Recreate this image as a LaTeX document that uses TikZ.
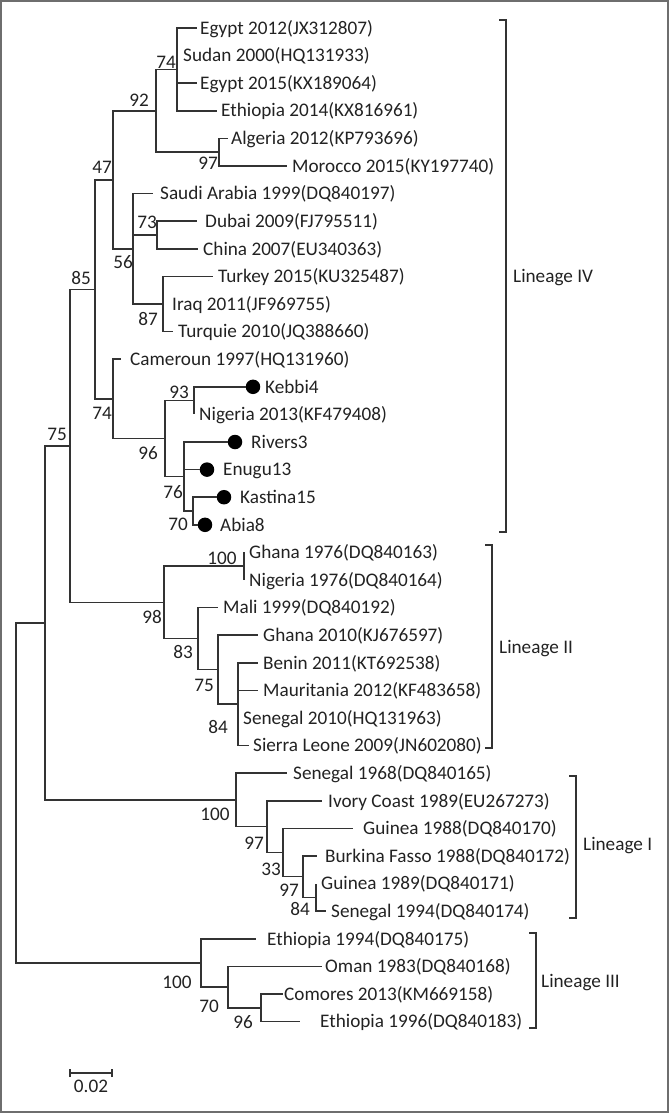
\documentclass[tikz,border=0pt]{standalone}
\usepackage{fontspec}
\setmainfont{Carlito}
\newcommand\fs{\fontsize{19.2}{23}\selectfont}
\definecolor{frm}{HTML}{6E6E6E}
\definecolor{ln}{HTML}{333333}
\definecolor{tx}{HTML}{222222}
\begin{document}
\begin{tikzpicture}[x=1pt,y=-1pt,
  br/.style={line width=1.5pt, draw=ln},
  lf/.style={anchor=west, inner sep=0pt, text height=12.4pt, text depth=0pt, font=\fs, text=tx},
  bs/.style={anchor=center, inner sep=0pt, text height=12.4pt, text depth=0pt, font=\fs, text=tx},
  dotm/.style={circle, fill=black, draw=none, inner sep=0pt, minimum size=14.5pt},
  bk/.style={line width=1.5pt, draw=ln}]
\useasboundingbox (0,0) rectangle (670,1113);
\draw[line width=2pt, draw=frm] (1,1.2) rectangle (668,1111.5);
% internal nodes
\coordinate (root) at (16,793);
\coordinate (nA) at (45,623);
\coordinate (n75) at (70,445.9);
\coordinate (n85) at (95,289.4);
\coordinate (n47) at (113,179.8);
\coordinate (n92) at (156,110.8);
\coordinate (nEg) at (177,69.4);
\coordinate (nAM) at (219,152.2);
\coordinate (n56) at (133,248.8);
\coordinate (n73) at (157,235);
\coordinate (n87) at (163,304);
\coordinate (n74) at (113,398.9);
\coordinate (n96) at (165,438.6);
\coordinate (n93) at (194,400.6);
\coordinate (n76) at (184,476.5);
\coordinate (n70) at (193,511);
\coordinate (n98) at (164,602.4);
\coordinate (n100a) at (244,566.2);
\coordinate (n83) at (198,638.7);
\coordinate (n75b) at (218,669.7);
\coordinate (n84) at (238,704.2);
\coordinate (n100b) at (236,800);
\coordinate (n97a) at (267,826.7);
\coordinate (n33) at (283,852.6);
\coordinate (n97b) at (303,876.7);
\coordinate (n84b) at (316,897.4);
\coordinate (n100c) at (201,963);
\coordinate (n70c) at (228,987.1);
\coordinate (n96c) at (261,1007.8);
% leaf tips
\coordinate (t1) at (197,28);
\coordinate (t2) at (177,55.6);
\coordinate (t3) at (197,83.2);
\coordinate (t4) at (217,110.8);
\coordinate (t5) at (228,138.4);
\coordinate (t6) at (287,166);
\coordinate (t7) at (153,193.6);
\coordinate (t8) at (197,221.2);
\coordinate (t9) at (198,248.8);
\coordinate (t10) at (213,276.4);
\coordinate (t11) at (163,304);
\coordinate (t12) at (173,331.6);
\coordinate (t13) at (121,359.2);
\coordinate (t15) at (194,414.4);
\coordinate (t20) at (244,552.4);
\coordinate (t21) at (244,580);
\coordinate (t22) at (218,607.6);
\coordinate (t23) at (258,635.2);
\coordinate (t24) at (258,662.8);
\coordinate (t25) at (258,690.4);
\coordinate (t26) at (238,718);
\coordinate (t27) at (249,745.6);
\coordinate (t28) at (287,773.2);
\coordinate (t29) at (322,800.8);
\coordinate (t30) at (353,828.4);
\coordinate (t31) at (317,856);
\coordinate (t32) at (316,883.6);
\coordinate (t33) at (326,911.2);
\coordinate (t34) at (256,938.8);
\coordinate (t35) at (322,966.4);
\coordinate (t36) at (283,994);
\coordinate (t37) at (300,1021.6);
% dots
\node[dotm] (d14) at (253,386.8) {};
\node[dotm] (d16) at (235,442) {};
\node[dotm] (d17) at (207,469.6) {};
\node[dotm] (d18) at (224,497.2) {};
\node[dotm] (d19) at (205,524.8) {};
% branches
\draw[br] (root) |- (nA);
\draw[br] (root) |- (n100c);
\draw[br] (nA) |- (n75);
\draw[br] (nA) |- (n100b);
\draw[br] (n75) |- (n85);
\draw[br] (n75) |- (n98);
\draw[br] (n85) |- (n47);
\draw[br] (n85) |- (n74);
\draw[br] (n47) |- (n92);
\draw[br] (n47) |- (n56);
\draw[br] (n92) |- (nEg);
\draw[br] (n92) |- (nAM);
\draw[br] (nEg) |- (t1);
\draw[br] (nEg) |- (t2);
\draw[br] (nEg) |- (t3);
\draw[br] (nEg) |- (t4);
\draw[br] (nAM) |- (t5);
\draw[br] (nAM) |- (t6);
\draw[br] (n56) |- (t7);
\draw[br] (n56) |- (n73);
\draw[br] (n56) |- (n87);
\draw[br] (n73) |- (t8);
\draw[br] (n73) |- (t9);
\draw[br] (n87) |- (t10);
\draw[br] (n87) |- (t11);
\draw[br] (n87) |- (t12);
\draw[br] (n74) |- (t13);
\draw[br] (n74) |- (n96);
\draw[br] (n96) |- (n93);
\draw[br] (n96) |- (n76);
\draw[br] (n93) |- (d14.west);
\draw[br] (n93) |- (t15);
\draw[br] (n76) |- (d16.west);
\draw[br] (n76) |- (d17.west);
\draw[br] (n76) |- (n70);
\draw[br] (n70) |- (d18.west);
\draw[br] (n70) |- (d19.west);
\draw[br] (n98) |- (n100a);
\draw[br] (n98) |- (n83);
\draw[br] (n100a) |- (t20);
\draw[br] (n100a) |- (t21);
\draw[br] (n83) |- (t22);
\draw[br] (n83) |- (n75b);
\draw[br] (n75b) |- (t23);
\draw[br] (n75b) |- (n84);
\draw[br] (n84) |- (t24);
\draw[br] (n84) |- (t25);
\draw[br] (n84) |- (t26);
\draw[br] (n84) |- (t27);
\draw[br] (n100b) |- (t28);
\draw[br] (n100b) |- (n97a);
\draw[br] (n97a) |- (t29);
\draw[br] (n97a) |- (n33);
\draw[br] (n33) |- (t30);
\draw[br] (n33) |- (n97b);
\draw[br] (n97b) |- (t31);
\draw[br] (n97b) |- (n84b);
\draw[br] (n84b) |- (t32);
\draw[br] (n84b) |- (t33);
\draw[br] (n100c) |- (t34);
\draw[br] (n100c) |- (n70c);
\draw[br] (n70c) |- (t35);
\draw[br] (n70c) |- (n96c);
\draw[br] (n96c) |- (t36);
\draw[br] (n96c) |- (t37);
% leaf labels
\node[lf] (l1) at (200,28) {Egypt 2012(JX312807)};
\node[lf] (l2) at (183,55.6) {Sudan 2000(HQ131933)};
\node[lf] (l3) at (200,83.2) {Egypt 2015(KX189064)};
\node[lf] (l4) at (221,110.8) {Ethiopia 2014(KX816961)};
\node[lf] (l5) at (231,138.4) {Algeria 2012(KP793696)};
\node[lf] (l6) at (292,166) {Morocco 2015(KY197740)};
\node[lf] (l7) at (160,193.6) {Saudi Arabia 1999(DQ840197)};
\node[lf] (l8) at (205,221.2) {Dubai 2009(FJ795511)};
\node[lf] (l9) at (203,248.8) {China 2007(EU340363)};
\node[lf] (l10) at (218,276.4) {Turkey 2015(KU325487)};
\node[lf] (l11) at (172,304) {Iraq 2011(JF969755)};
\node[lf] (l12) at (178,331.6) {Turquie 2010(JQ388660)};
\node[lf] (l13) at (130,359.2) {Cameroun 1997(HQ131960)};
\node[lf] (l14) at (265,386.8) {Kebbi4};
\node[lf] (l15) at (199,414.4) {Nigeria 2013(KF479408)};
\node[lf] (l16) at (251,442) {Rivers3};
\node[lf] (l17) at (223,469.6) {Enugu13};
\node[lf] (l18) at (240,497.2) {Kastina15};
\node[lf] (l19) at (220,524.8) {Abia8};
\node[lf] (l20) at (249,552.4) {Ghana 1976(DQ840163)};
\node[lf] (l21) at (249,580) {Nigeria 1976(DQ840164)};
\node[lf] (l22) at (223,607.6) {Mali 1999(DQ840192)};
\node[lf] (l23) at (263,635.2) {Ghana 2010(KJ676597)};
\node[lf] (l24) at (263,662.8) {Benin 2011(KT692538)};
\node[lf] (l25) at (263,690.4) {Mauritania 2012(KF483658)};
\node[lf] (l26) at (243,718) {Senegal 2010(HQ131963)};
\node[lf] (l27) at (253,745.6) {Sierra Leone 2009(JN602080)};
\node[lf] (l28) at (293,773.2) {Senegal 1968(DQ840165)};
\node[lf] (l29) at (328,800.8) {Ivory Coast 1989(EU267273)};
\node[lf] (l30) at (363,828.4) {Guinea 1988(DQ840170)};
\node[lf] (l31) at (325,856) {Burkina Fasso 1988(DQ840172)};
\node[lf] (l32) at (321,883.6) {Guinea 1989(DQ840171)};
\node[lf] (l33) at (331,911.2) {Senegal 1994(DQ840174)};
\node[lf] (l34) at (267,938.8) {Ethiopia 1994(DQ840175)};
\node[lf] (l35) at (325,966.4) {Oman 1983(DQ840168)};
\node[lf] (l36) at (284,994) {Comores 2013(KM669158)};
\node[lf] (l37) at (320,1021.6) {Ethiopia 1996(DQ840183)};
% bootstrap values
\node[bs] (b1) at (166,62) {74};
\node[bs] (b2) at (139,100) {92};
\node[bs] (b3) at (208,163) {97};
\node[bs] (b4) at (102,167) {47};
\node[bs] (b5) at (147,222) {73};
\node[bs] (b6) at (123,262) {56};
\node[bs] (b7) at (81,278) {85};
\node[bs] (b8) at (148,319) {87};
\node[bs] (b9) at (57,434) {75};
\node[bs] (b10) at (179,392) {93};
\node[bs] (b11) at (102,413) {74};
\node[bs] (b12) at (148,453) {96};
\node[bs] (b13) at (173,492) {76};
\node[bs] (b14) at (178,524) {70};
\node[bs] (b15) at (222,558) {100};
\node[bs] (b16) at (152,617) {98};
\node[bs] (b17) at (183,652) {83};
\node[bs] (b18) at (204,685) {75};
\node[bs] (b19) at (218,727) {84};
\node[bs] (b20) at (215,814) {100};
\node[bs] (b21) at (254,843) {97};
\node[bs] (b22) at (271,869) {33};
\node[bs] (b23) at (289,890) {97};
\node[bs] (b24) at (300,909) {84};
\node[bs] (b25) at (177,982) {100};
\node[bs] (b26) at (209,1006) {70};
\node[bs] (b27) at (243,1022) {96};
% lineage brackets
\draw[bk] (499,20) -- (506,20) -- (506,532) -- (499,532);
\node[lf] (g4) at (513,276) {Lineage IV};
\draw[bk] (485,545) -- (492,545) -- (492,748) -- (485,748);
\node[lf] (g2) at (499,647) {Lineage II};
\draw[bk] (569,776) -- (576,776) -- (576,918) -- (569,918);
\node[lf] (g1) at (583,844) {Lineage I};
\draw[bk] (529,933) -- (536,933) -- (536,1028) -- (529,1028);
\node[lf] (g3) at (541,981) {Lineage III};
% scale bar
\coordinate (s1) at (70,1073);
\coordinate (s2) at (112,1073);
\draw[bk] (s1) -- (s2);
\draw[bk] ([yshift=-4pt]s1) -- ([yshift=4pt]s1);
\draw[bk] ([yshift=-4pt]s2) -- ([yshift=4pt]s2);
\node[bs] (sl) at (91,1086) {0.02};
\end{tikzpicture}
\end{document}
